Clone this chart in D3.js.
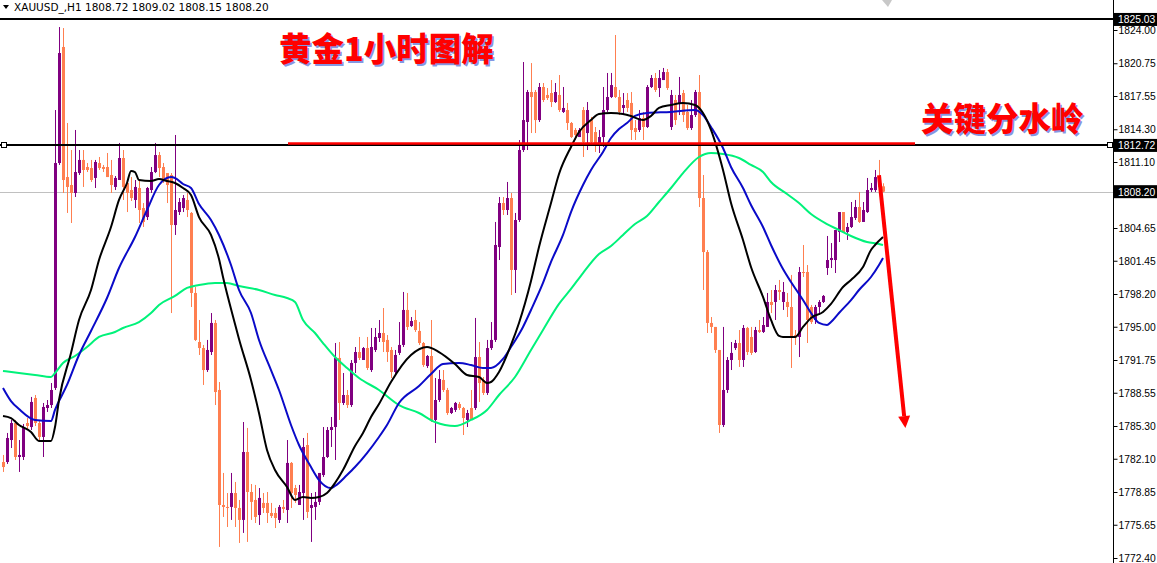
<!DOCTYPE html>
<html><head><meta charset="utf-8">
<script src="https://cdn.jsdelivr.net/npm/d3@7"></script>
<style>
html,body{margin:0;padding:0;background:#fff;}
svg{display:block;}
</style></head>
<body>
<svg id="c" width="1157" height="563"></svg>
<script>
// ---- data (XAUUSD H1) ----
const symbolTitle = "XAUUSD_,H1";
const lastBar = [1808.72, 1809.02, 1808.15, 1808.20];
const opens = [1781.78,1781.78,1783.93,1785.59,1782.27,1782.27,1785.59,1785.20,1788.04,1785.59,1784.23,1787.06,1787.35,1789.02,1811.00,1822.34,1809.63,1808.85,1808.07,1810.02,1811.30,1810.61,1810.51,1809.54,1811.00,1810.61,1810.61,1809.83,1808.66,1809.34,1811.49,1809.05,1808.36,1807.39,1808.56,1806.60,1805.72,1808.36,1810.12,1811.78,1810.61,1810.02,1809.83,1804.94,1806.21,1806.60,1807.39,1806.12,1798.30,1793.51,1792.92,1790.77,1792.53,1795.37,1788.82,1777.58,1777.39,1777.39,1778.75,1777.29,1776.12,1782.76,1778.85,1778.07,1776.60,1777.78,1777.78,1776.80,1776.80,1776.12,1777.39,1777.09,1781.69,1779.24,1777.58,1778.75,1783.44,1777.29,1777.39,1777.88,1780.51,1782.27,1784.91,1785.20,1791.95,1787.55,1788.33,1787.35,1791.46,1792.53,1791.75,1792.92,1790.77,1792.73,1793.90,1794.39,1793.71,1792.73,1790.58,1792.44,1793.22,1796.64,1795.07,1795.66,1794.59,1793.41,1791.16,1792.14,1785.89,1787.84,1789.80,1788.82,1786.57,1786.87,1787.45,1787.06,1785.89,1787.06,1787.06,1792.04,1789.80,1788.53,1792.92,1793.71,1802.79,1807.09,1806.41,1807.58,1800.55,1805.43,1812.27,1815.01,1817.94,1817.94,1815.20,1818.43,1817.65,1817.84,1816.96,1817.65,1815.99,1816.18,1814.91,1814.23,1813.54,1816.18,1813.93,1815.20,1814.03,1812.96,1813.54,1816.18,1817.45,1818.43,1817.45,1816.38,1817.16,1816.87,1814.42,1814.23,1815.40,1814.52,1818.43,1819.31,1818.33,1819.11,1819.89,1814.52,1817.16,1816.87,1817.84,1815.99,1814.42,1815.69,1817.94,1807.58,1802.30,1795.37,1794.98,1792.73,1785.40,1788.82,1791.75,1792.92,1793.41,1791.75,1794.88,1794.00,1792.53,1794.68,1794.49,1794.98,1797.42,1797.42,1798.59,1797.42,1797.42,1796.93,1794.19,1794.00,1800.35,1800.35,1796.93,1795.66,1796.93,1797.42,1800.74,1801.52,1801.52,1804.26,1806.21,1804.26,1804.75,1805.63,1806.70,1805.24,1806.21,1808.36,1808.36,1809.54,1808.72];
const highs = [1782.47,1784.62,1785.89,1785.89,1783.93,1785.50,1786.08,1788.14,1788.33,1785.89,1787.55,1787.84,1789.50,1816.18,1824.29,1824.19,1814.91,1812.27,1814.23,1812.27,1812.27,1811.00,1811.30,1811.30,1811.59,1810.81,1811.98,1811.30,1809.73,1812.96,1812.27,1809.34,1809.63,1809.34,1809.34,1807.09,1808.66,1810.61,1812.96,1812.08,1811.00,1810.02,1810.02,1813.74,1807.58,1807.87,1808.07,1806.21,1798.88,1795.66,1793.22,1793.71,1796.34,1795.66,1789.60,1780.71,1778.75,1780.71,1779.83,1778.07,1785.69,1785.11,1779.63,1779.54,1779.24,1778.75,1778.85,1777.78,1777.29,1777.58,1778.07,1783.93,1781.78,1779.54,1779.54,1784.13,1784.62,1778.75,1778.85,1780.71,1785.20,1785.20,1786.18,1793.41,1793.51,1790.48,1788.82,1791.75,1793.02,1794.00,1793.02,1794.00,1794.88,1794.88,1795.66,1796.83,1794.19,1793.02,1792.73,1795.46,1798.40,1798.30,1795.95,1796.64,1795.46,1793.51,1792.24,1795.66,1789.99,1790.77,1790.77,1789.02,1787.16,1787.65,1787.65,1787.16,1786.87,1788.82,1795.86,1793.51,1790.09,1793.71,1795.46,1805.24,1807.68,1807.68,1809.15,1808.07,1806.12,1813.25,1820.87,1818.14,1820.77,1818.14,1818.82,1818.82,1818.33,1819.11,1818.82,1819.60,1818.43,1816.87,1815.01,1814.42,1814.42,1816.47,1816.96,1815.50,1814.52,1814.23,1818.43,1819.80,1819.80,1823.51,1818.14,1817.84,1817.84,1817.94,1815.20,1816.18,1815.99,1818.62,1819.60,1819.80,1820.09,1820.29,1820.19,1818.14,1817.65,1819.41,1818.14,1816.67,1817.16,1818.14,1819.60,1809.83,1802.50,1795.95,1794.98,1792.73,1794.98,1792.04,1793.51,1793.71,1794.68,1795.17,1794.98,1794.98,1794.98,1795.66,1795.95,1798.30,1798.59,1799.08,1799.57,1799.37,1798.30,1800.06,1794.68,1800.84,1802.99,1801.03,1797.13,1797.13,1797.61,1798.10,1803.87,1803.18,1804.45,1806.21,1806.21,1805.14,1807.19,1807.39,1808.17,1807.19,1809.54,1809.05,1810.32,1811.30,1809.02];
const lows = [1780.81,1781.59,1783.15,1781.98,1780.81,1781.98,1784.91,1784.91,1785.30,1783.93,1782.27,1786.67,1787.06,1788.82,1810.81,1808.07,1806.12,1805.14,1807.68,1809.83,1808.66,1810.12,1809.15,1808.56,1810.32,1810.12,1809.63,1808.07,1808.36,1809.34,1807.39,1806.21,1807.29,1806.60,1805.14,1804.75,1805.43,1808.07,1810.02,1809.63,1809.05,1807.09,1796.34,1803.97,1805.92,1806.21,1805.72,1796.93,1793.61,1792.24,1789.31,1790.58,1792.24,1787.35,1773.48,1776.41,1775.43,1776.12,1775.43,1773.87,1774.85,1773.97,1776.12,1775.82,1775.63,1776.80,1775.82,1776.31,1775.33,1775.82,1776.80,1775.82,1777.29,1777.78,1777.58,1776.12,1776.31,1773.97,1776.12,1777.58,1780.32,1782.17,1783.25,1781.98,1785.89,1787.35,1787.06,1787.16,1790.48,1791.75,1791.75,1790.77,1790.58,1792.53,1793.51,1792.53,1791.56,1789.99,1790.29,1792.24,1793.02,1794.68,1794.98,1794.49,1793.22,1791.07,1790.97,1785.69,1783.64,1787.65,1788.62,1786.38,1786.47,1786.67,1786.87,1784.42,1785.20,1785.89,1786.87,1787.65,1788.33,1788.33,1792.73,1793.51,1801.52,1805.92,1805.92,1798.10,1798.30,1805.24,1812.08,1812.27,1813.93,1813.93,1815.01,1816.96,1817.16,1816.47,1816.87,1815.99,1815.89,1814.23,1813.45,1813.25,1813.54,1811.59,1812.27,1812.96,1812.08,1811.98,1812.57,1815.99,1817.35,1817.35,1815.69,1815.69,1815.99,1813.25,1813.25,1814.03,1813.25,1814.42,1818.33,1817.94,1817.45,1819.11,1818.14,1814.23,1814.72,1815.69,1815.01,1814.23,1814.23,1815.50,1806.70,1798.59,1794.39,1794.39,1792.44,1784.62,1785.20,1788.53,1790.77,1792.73,1791.07,1791.07,1792.24,1792.24,1792.44,1794.39,1794.39,1794.98,1796.34,1795.66,1797.61,1796.64,1795.95,1790.97,1793.22,1792.04,1799.86,1793.41,1795.27,1795.27,1796.15,1797.32,1800.06,1800.74,1800.25,1803.28,1804.16,1803.48,1804.65,1805.43,1805.14,1805.24,1806.12,1808.17,1808.17,1808.07,1808.15];
const closes = [1781.29,1784.13,1785.59,1782.27,1782.47,1785.20,1785.30,1787.65,1785.59,1784.23,1787.16,1787.35,1788.82,1811.00,1821.75,1809.34,1808.66,1808.07,1810.12,1811.30,1810.32,1810.32,1809.34,1811.10,1810.51,1810.42,1809.63,1808.85,1809.54,1811.49,1808.66,1808.07,1807.58,1808.66,1806.41,1805.24,1808.56,1810.12,1811.78,1810.51,1809.34,1808.85,1804.94,1806.41,1807.19,1807.58,1806.41,1798.30,1793.71,1792.92,1790.77,1792.73,1795.37,1788.62,1777.58,1777.39,1777.29,1778.75,1777.29,1776.12,1782.76,1778.85,1777.88,1776.41,1778.27,1777.29,1776.80,1776.51,1776.31,1777.39,1777.19,1781.69,1778.75,1778.56,1778.85,1783.25,1776.90,1777.58,1777.88,1780.71,1782.27,1784.91,1785.20,1791.95,1787.55,1788.33,1787.35,1791.46,1792.53,1791.95,1792.92,1790.97,1793.02,1794.00,1794.39,1793.51,1792.53,1790.58,1792.24,1793.22,1796.64,1794.98,1795.56,1794.68,1793.41,1791.26,1792.14,1785.89,1787.84,1789.89,1788.82,1786.57,1787.06,1787.55,1787.06,1786.08,1786.57,1785.89,1792.04,1789.50,1788.53,1792.92,1793.71,1802.99,1807.09,1806.41,1807.58,1800.55,1805.43,1812.27,1815.20,1817.94,1817.45,1815.20,1818.43,1817.16,1817.35,1816.96,1817.94,1816.18,1816.38,1814.91,1813.54,1813.74,1814.23,1813.05,1816.18,1813.05,1812.96,1813.54,1816.18,1817.45,1818.62,1817.45,1815.99,1816.67,1816.38,1814.23,1814.03,1815.40,1814.52,1818.43,1819.31,1818.14,1819.31,1819.89,1818.33,1817.65,1815.20,1817.65,1815.69,1814.42,1815.69,1817.94,1807.58,1802.30,1795.37,1794.98,1792.73,1785.40,1788.82,1791.75,1792.44,1793.41,1791.75,1794.88,1792.53,1792.44,1794.68,1794.49,1795.17,1797.42,1797.13,1798.59,1798.40,1798.40,1796.93,1794.00,1794.00,1800.35,1800.25,1795.66,1795.46,1796.93,1797.42,1798.01,1801.52,1801.72,1804.45,1806.21,1804.26,1804.75,1805.72,1806.70,1805.24,1806.41,1808.36,1808.56,1809.63,1808.66,1808.20];

// moving averages (bar index -> price)
const maFastIdx = [0,2,4,7,9,12,13,14,17,19,22,24,27,29,31,32,33,34,37,39,41,43,45,47,49,52,54,55,58,59,62,64,66,68,71,73,75,77,79,81,83,85,88,90,92,94,97,102,106,109,113,116,119,121,122,124,127,129,132,134,137,139,142,144,147,149,152,155,157,160,162,164,167,170,173,175,177,180,182,185,187,190,192,194,195,198,200,202,205,207,210,212,215,217,218,220];
const maFastVal = [1786.28,1786.08,1785.40,1784.72,1783.84,1783.84,1785.20,1787.84,1792.44,1795.66,1798.59,1801.52,1804.75,1807.39,1809.05,1810.22,1810.12,1809.34,1809.24,1809.44,1809.24,1809.05,1808.56,1807.87,1805.72,1803.97,1801.62,1799.86,1795.27,1793.80,1789.80,1786.57,1782.96,1781.00,1779.34,1778.07,1778.36,1778.27,1778.36,1778.75,1779.73,1781.00,1783.35,1784.62,1786.18,1787.45,1789.60,1792.24,1793.02,1792.53,1791.36,1790.29,1790.09,1789.50,1789.60,1790.58,1793.22,1795.37,1799.47,1802.79,1807.09,1809.93,1812.57,1814.03,1815.20,1815.79,1815.89,1815.79,1815.60,1815.20,1815.60,1816.38,1816.67,1816.87,1816.67,1815.89,1814.23,1810.32,1807.09,1803.48,1800.84,1797.91,1795.66,1794.10,1794.00,1794.00,1794.98,1795.86,1796.44,1797.23,1798.88,1799.57,1800.84,1802.50,1802.99,1803.77];
const maMidIdx = [0,2,4,8,12,13,16,19,22,26,29,33,36,39,42,43,45,47,49,52,54,57,59,62,64,67,69,72,74,77,79,82,83,86,88,91,94,96,99,104,107,110,114,117,120,122,125,127,130,132,135,137,140,142,145,147,150,152,154,156,158,161,167,173,175,177,180,182,185,187,190,192,195,197,200,202,204,206,207,209,212,214,217,219,220];
const maMidVal = [1789.02,1787.74,1786.96,1785.89,1785.79,1786.87,1789.31,1792.24,1794.59,1797.81,1800.74,1803.77,1806.41,1808.85,1809.63,1809.54,1808.95,1808.56,1806.99,1805.43,1803.97,1801.03,1798.59,1796.34,1793.71,1790.77,1788.82,1785.40,1783.44,1781.29,1780.02,1779.24,1779.44,1780.51,1781.29,1782.66,1784.23,1785.40,1787.55,1789.21,1790.38,1791.36,1791.46,1791.26,1790.97,1790.97,1791.85,1793.02,1794.98,1796.64,1799.28,1801.33,1803.97,1806.21,1808.85,1810.32,1812.08,1813.45,1814.32,1814.91,1815.60,1815.89,1815.99,1816.18,1815.69,1814.52,1812.47,1810.61,1808.56,1806.90,1804.75,1802.99,1800.64,1799.37,1797.61,1796.34,1795.37,1795.17,1795.46,1796.34,1797.61,1798.59,1799.86,1801.03,1801.72];
const maSlowIdx = [0,4,8,12,13,15,18,21,24,28,30,34,37,39,43,46,49,53,56,59,64,68,71,73,75,78,80,83,86,89,94,99,104,108,113,117,121,124,128,132,135,139,142,145,149,152,155,158,161,164,167,170,174,177,180,184,187,190,192,196,199,202,206,209,212,216,219,220];
const maSlowVal = [1790.68,1790.48,1790.29,1790.09,1790.48,1791.46,1792.14,1793.02,1794.00,1794.49,1794.88,1795.46,1796.34,1797.13,1798.01,1798.79,1799.08,1799.28,1799.28,1798.98,1798.59,1798.10,1797.81,1797.42,1795.66,1794.39,1793.41,1792.04,1790.97,1789.99,1788.82,1787.35,1786.57,1785.69,1785.30,1785.89,1786.87,1788.33,1790.09,1792.73,1794.68,1797.23,1798.69,1800.25,1802.11,1802.89,1803.97,1805.04,1805.82,1807.19,1808.56,1810.02,1811.59,1811.98,1811.88,1811.49,1810.81,1810.12,1809.15,1807.97,1807.09,1806.02,1805.04,1804.45,1803.87,1803.28,1803.09,1802.99];

const yTicks = [1824.00,1820.75,1817.55,1814.30,1811.10,1804.65,1801.45,1798.20,1795.00,1791.75,1788.55,1785.30,1782.10,1778.85,1775.65,1772.40];
const levelLines = [1825.03, 1812.72];
const bidPrice = 1808.20;
const titleText = "黄金1小时图解";
const noteText = "关键分水岭";
const redLevel = [71.25, 228, 1812.9];     // from bar, to bar, price
const arrowFrom = [219, 1809.8];
const arrowTo = [225.6, 1785.1];

// ---- drawing ----
const W = 1157, H = 563, axisX = 1113;
const svg = d3.select("#c");
const x = d3.scaleLinear().domain([0, 220]).range([3, 883]);
const y = d3.scaleLinear().domain([1772.40, 1824.00]).range([558, 30]);
const BULL = "#800080", BEAR = "#FF7F50";
const AXIS_FONT = "'Liberation Sans', Arial, sans-serif";

svg.append("rect").attr("width", W).attr("height", H).attr("fill", "#fff");

const plot = svg.append("g");
// bid line
plot.append("line").attr("x1", 0).attr("x2", axisX).attr("y1", Math.round(y(bidPrice)) + 0.5).attr("y2", Math.round(y(bidPrice)) + 0.5)
  .attr("stroke", "#c0c0c0").attr("stroke-width", 1);

// candles
const bars = d3.range(opens.length).map(i => ({i, o: opens[i], h: highs[i], l: lows[i], c: closes[i]}));
const cg = plot.append("g");
cg.selectAll("line.w").data(bars).join("line")
  .attr("x1", d => x(d.i) + 0.5).attr("x2", d => x(d.i) + 0.5)
  .attr("y1", d => y(d.h)).attr("y2", d => y(d.l))
  .attr("stroke", d => d.c >= d.o ? BULL : BEAR).attr("stroke-width", 1);
cg.selectAll("rect.b").data(bars).join("rect")
  .attr("x", d => x(d.i) - 1).attr("width", 3)
  .attr("y", d => y(Math.max(d.o, d.c)))
  .attr("height", d => Math.max(1, Math.abs(y(d.o) - y(d.c))))
  .attr("fill", d => d.c >= d.o ? BULL : BEAR);

// moving averages
const line = d3.line().x(d => x(d[0])).y(d => y(d[1])).curve(d3.curveMonotoneX);
function ma(idx, val, color) {
  plot.append("path").datum(idx.map((k, j) => [k, val[j]])).attr("d", line)
    .attr("fill", "none").attr("stroke", color).attr("stroke-width", 2).attr("stroke-linejoin", "round");
}
ma(maSlowIdx, maSlowVal, "#00F27A");
ma(maMidIdx, maMidVal, "#0A0AC8");
ma(maFastIdx, maFastVal, "#000000");

// level lines
levelLines.forEach(p => {
  const yy = Math.round(y(p));
  plot.append("line").attr("x1", 0).attr("x2", axisX).attr("y1", yy).attr("y2", yy)
    .attr("stroke", "#000").attr("stroke-width", 2);
});
// anchor squares on 1812.72
[1, axisX - 6].forEach(px => {
  plot.append("rect").attr("x", px + 0.5).attr("y", Math.round(y(levelLines[1])) - 2.5).attr("width", 5).attr("height", 5)
    .attr("fill", "#fff").attr("stroke", "#000").attr("stroke-width", 1);
});

// red key level line
plot.append("line").attr("x1", x(redLevel[0])).attr("x2", x(redLevel[1]))
  .attr("y1", y(redLevel[2])).attr("y2", y(redLevel[2]))
  .attr("stroke", "#FF0000").attr("stroke-width", 2.5);

// red arrow
const ax1 = x(arrowFrom[0]), ay1 = y(arrowFrom[1]), ax2 = x(arrowTo[0]), ay2 = y(arrowTo[1]);
const ang = Math.atan2(ay2 - ay1, ax2 - ax1);
const hl = 12, hw = 6;
const bx = ax2 - hl * Math.cos(ang), by = ay2 - hl * Math.sin(ang);
plot.append("line").attr("x1", ax1).attr("y1", ay1).attr("x2", bx).attr("y2", by)
  .attr("stroke", "#FF0000").attr("stroke-width", 4);
plot.append("path").attr("d", `M${ax2},${ay2} L${bx + hw * Math.sin(ang)},${by - hw * Math.cos(ang)} L${bx - hw * Math.sin(ang)},${by + hw * Math.cos(ang)} Z`)
  .attr("fill", "#FF0000");

// titles
function shadowText(t, px, py, size) {
  const g = svg.append("g").attr("font-family", "'Noto Sans CJK SC', sans-serif").attr("font-weight", 900).attr("font-size", size);
  g.append("text").attr("x", px + 1.5).attr("y", py + 1.5).attr("fill", "#3050d0").attr("fill-opacity", 0.6).text(t);
  g.append("text").attr("x", px).attr("y", py).attr("fill", "#FF0000").text(t);
}
shadowText(titleText, 279, 61, 32.5);
shadowText(noteText, 921, 131, 32.5);

// header
svg.append("path").attr("d", "M3,5 L9,5 L6,9 Z").attr("fill", "#000");
svg.append("text").attr("x", 14).attr("y", 11).attr("font-family", "'DejaVu Sans', sans-serif").attr("font-size", 10.5)
  .attr("fill", "#000").text(symbolTitle + "  " + lastBar.map(v => v.toFixed(2)).join(" "));
svg.append("path").attr("d", "M882,0 L892,0 L888,7 Z").attr("fill", "#c8c8c8");

// right axis
svg.append("line").attr("x1", axisX + 0.5).attr("x2", axisX + 0.5).attr("y1", 0).attr("y2", H).attr("stroke", "#000");
const axis = d3.axisRight(y).tickValues(yTicks).tickSize(4).tickPadding(1).tickFormat(d3.format(".2f"));
const ag = svg.append("g").attr("transform", `translate(${axisX + 0.5},0)`).call(axis);
ag.select(".domain").remove();
ag.selectAll("text").attr("font-family", AXIS_FONT).attr("font-size", 10.3).attr("fill", "#000");
ag.selectAll("line").attr("stroke", "#000");

// price tags
[levelLines[0], levelLines[1], bidPrice].forEach(p => {
  const yy = y(p);
  svg.append("rect").attr("x", axisX + 1).attr("y", yy - 6.5).attr("width", W - axisX - 1).attr("height", 13).attr("fill", "#000");
  svg.append("text").attr("x", axisX + 5).attr("y", yy + 4).attr("font-family", AXIS_FONT)
    .attr("font-size", 10.3).attr("fill", "#fff").text(p.toFixed(2));
});
</script>
</body></html>
